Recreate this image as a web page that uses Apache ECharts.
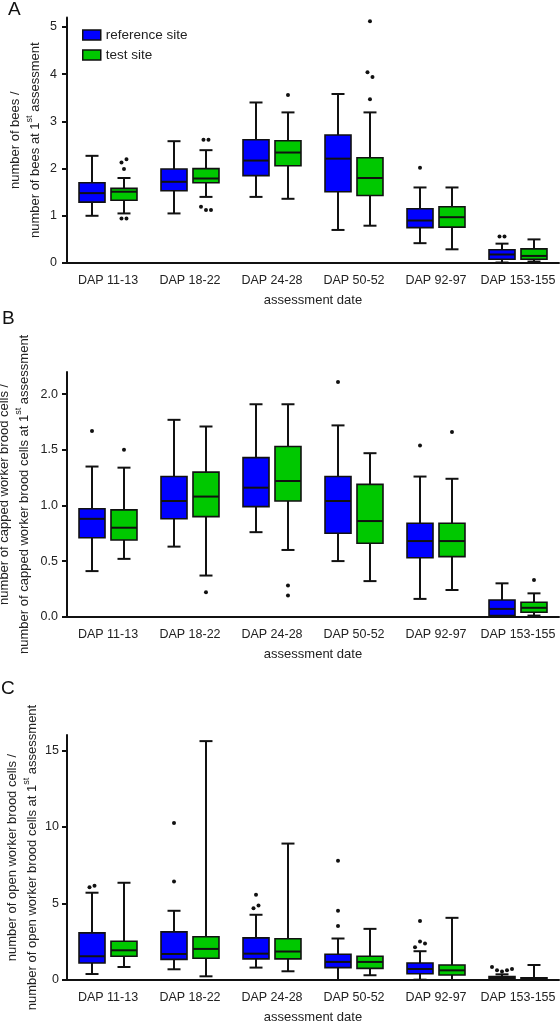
<!DOCTYPE html>
<html>
<head>
<meta charset="utf-8">
<script src="https://cdn.jsdelivr.net/npm/echarts@6/dist/echarts.min.js"></script>
<style>html,body{margin:0;padding:0;background:#fff}#chart{width:560px;height:1022px}</style>
</head>
<body>
<div id="chart"></div>
<script>
// ---------- data ----------
const categories = ['DAP 11-13', 'DAP 18-22', 'DAP 24-28', 'DAP 50-52', 'DAP 92-97', 'DAP 153-155'];
const seriesNames = ['reference site', 'test site'];

// [min(whisker), Q1, median, Q3, max(whisker)] per category
const beesRef = [[1.00,1.29,1.48,1.70,2.27],[1.05,1.53,1.72,1.99,2.58],[1.40,1.85,2.17,2.61,3.40],[0.70,1.51,2.21,2.71,3.58],[0.42,0.75,0.90,1.15,1.60],[0.01,0.08,0.18,0.28,0.41]];
const beesTest = [[1.05,1.33,1.51,1.58,1.80],[1.40,1.70,1.79,2.00,2.39],[1.36,2.06,2.34,2.59,3.19],[0.79,1.43,1.80,2.23,3.19],[0.29,0.76,0.97,1.19,1.60],[0.03,0.08,0.15,0.30,0.50]];
const beesRefOut = [[4,2.02],[5,0.56],[5,0.56]];
const beesTestOut = [[0,2.13],[0,2.20],[0,1.99],[0,0.94],[0,0.94],[1,2.61],[1,2.61],[1,1.19],[1,1.12],[1,1.12],[2,3.56],[3,5.12],[3,4.04],[3,3.94],[3,3.47]];

const cappedRef = [[0.41,0.71,0.88,0.97,1.35],[0.63,0.88,1.04,1.26,1.77],[0.76,0.99,1.16,1.43,1.91],[0.50,0.75,1.04,1.26,1.72],[0.16,0.53,0.68,0.84,1.26],[0.00,0.01,0.07,0.15,0.30]];
const cappedTest = [[0.52,0.69,0.80,0.96,1.34],[0.37,0.90,1.08,1.30,1.71],[0.60,1.04,1.22,1.53,1.91],[0.32,0.66,0.86,1.19,1.47],[0.24,0.54,0.68,0.84,1.24],[0.01,0.04,0.08,0.13,0.21]];
const cappedRefOut = [[0,1.67],[3,2.11],[4,1.54]];
const cappedTestOut = [[0,1.50],[1,0.22],[2,0.28],[2,0.19],[4,1.66],[5,0.33]];

const openRef = [[0.39,1.11,1.55,3.08,5.70],[0.70,1.35,1.70,3.14,4.52],[0.81,1.38,1.72,2.75,4.26],[0.00,0.81,1.18,1.68,2.71],[0.02,0.41,0.72,1.11,1.88],[0.00,0.07,0.13,0.22,0.37]];
const openTest = [[0.85,1.55,1.94,2.53,6.35],[0.24,1.42,2.03,2.82,15.6],[0.57,1.38,1.86,2.69,8.91],[0.31,0.76,1.18,1.55,3.34],[0.00,0.33,0.63,0.98,4.06],[0.00,0.04,0.09,0.15,0.98]];
const openRefOut = [[0,6.05],[0,6.16],[1,10.26],[1,6.44],[2,5.57],[2,4.69],[2,4.87],[3,7.79],[3,4.52],[3,3.52],[4,3.86],[4,2.14],[4,2.51],[4,2.38],[5,0.85],[5,0.63],[5,0.55],[5,0.63],[5,0.72]];
const openTestOut = [];

const beesTicks = [0, 1, 2, 3, 4, 5];
const cappedTicks = [0, 0.5, 1.0, 1.5, 2.0];
const openTicks = [0, 5, 10, 15];

// ---------- styling / layout ----------
const FONT = '"Liberation Sans", Arial, sans-serif';
const BLUE = '#0000ff';
const GREEN = '#00c800';
const INK = '#111111';
const TXT = '#222222';
const SITE_OFFSET = [-0.195, 0.195];  // fraction of band width
const BOX_FRAC = 0.317;

const panels = [
  { top: 17.5, height: 245.5, max: 5.2, ticks: beesTicks, dec: 0, ref: beesRef, test: beesTest, refOut: beesRefOut, testOut: beesTestOut,
    name: 'number of bees /\nnumber of bees at 1{sup|st} assessment', nameGap: 22, labelMargin: 10 },
  { top: 372, height: 244.7, max: 2.2, ticks: cappedTicks, dec: 1, ref: cappedRef, test: cappedTest, refOut: cappedRefOut, testOut: cappedTestOut,
    name: 'number of capped worker brood cells /\nnumber of capped worker brood cells at 1{sup|st} assessment', nameGap: 33, labelMargin: 9 },
  { top: 735, height: 245, max: 16, ticks: openTicks, dec: 0, ref: openRef, test: openTest, refOut: openRefOut, testOut: openTestOut,
    name: 'number of open worker brood cells /\nnumber of open worker brood cells at 1{sup|st} assessment', nameGap: 25, labelMargin: 8 }
];

function withJitter(points, range) {
  const thr = range * 0.024;
  const out = points.map(p => [p[0], p[1], 0]);
  const byCat = {};
  points.forEach((p, i) => { (byCat[p[0]] = byCat[p[0]] || []).push(i); });
  Object.keys(byCat).forEach(k => {
    const idxs = byCat[k];
    const sorted = idxs.slice().sort((a, b) => points[a][1] - points[b][1]);
    const groups = [[sorted[0]]];
    for (let j = 1; j < sorted.length; j++) {
      if (points[sorted[j]][1] - points[sorted[j - 1]][1] < thr) groups[groups.length - 1].push(sorted[j]);
      else groups.push([sorted[j]]);
    }
    groups.forEach(g => { g.sort((a, b) => a - b); g.forEach((idx, j) => { out[idx][2] = j - (g.length - 1) / 2; }); });
  });
  return out;
}

function boxRenderer(siteIdx, color) {
  return function (params, api) {
    const cat = api.value(0);
    const bw = api.size([1, 0])[0];
    const cx = api.coord([cat, 0])[0] + SITE_OFFSET[siteIdx] * bw;
    const w = BOX_FRAC * bw;
    const y = i => api.coord([cat, api.value(i)])[1];
    const yMin = y(1), yQ1 = y(2), yMed = y(3), yQ3 = y(4), yMax = y(5);
    const ls = { stroke: INK, lineWidth: 2 };
    return {
      type: 'group',
      children: [
        { type: 'line', shape: { x1: cx, y1: yMax, x2: cx, y2: yQ3 }, style: ls },
        { type: 'line', shape: { x1: cx - w / 4, y1: yMax, x2: cx + w / 4, y2: yMax }, style: ls },
        { type: 'line', shape: { x1: cx, y1: yMin, x2: cx, y2: yQ1 }, style: ls },
        { type: 'line', shape: { x1: cx - w / 4, y1: yMin, x2: cx + w / 4, y2: yMin }, style: ls },
        { type: 'rect', shape: { x: cx - w / 2, y: yQ3, width: w, height: yQ1 - yQ3 }, style: { fill: color, stroke: INK, lineWidth: 1.6 } },
        { type: 'line', shape: { x1: cx - w / 2, y1: yMed, x2: cx + w / 2, y2: yMed }, style: ls }
      ]
    };
  };
}

function outRenderer(siteIdx) {
  return function (params, api) {
    const cat = api.value(0);
    const bw = api.size([1, 0])[0];
    const pt = api.coord([cat, api.value(1)]);
    return { type: 'circle', shape: { cx: pt[0] + SITE_OFFSET[siteIdx] * bw + api.value(2) * 5, cy: pt[1], r: 2 }, style: { fill: INK } };
  };
}

const grid = [], xAxis = [], yAxis = [], series = [];
panels.forEach((p, i) => {
  grid.push({ left: 67, top: p.top, width: 492, height: p.height, containLabel: false, outerBoundsMode: 'none' });
  xAxis.push({
    type: 'category', gridIndex: i, data: categories,
    name: 'assessment date', nameLocation: 'middle', nameGap: 31, nameMoveOverlap: false,
    nameTextStyle: { fontSize: 13, color: TXT, fontFamily: FONT },
    axisLine: { lineStyle: { color: INK, width: 2 } },
    axisTick: { alignWithLabel: true, length: 5, lineStyle: { color: INK, width: 2 } },
    axisLabel: { fontSize: 12.5, color: TXT, fontFamily: FONT, margin: 11, interval: 0 },
    splitLine: { show: false }
  });
  yAxis.push({
    type: 'value', gridIndex: i, min: 0, max: p.max,
    name: p.name, nameLocation: 'middle', nameGap: p.nameGap, nameMoveOverlap: false,
    nameTextStyle: { fontSize: 13, lineHeight: 20, color: TXT, fontFamily: FONT,
      rich: { sup: { fontSize: 9, lineHeight: 11, verticalAlign: 'top', color: TXT, fontFamily: FONT } } },
    axisLine: { show: true, lineStyle: { color: INK, width: 2 } },
    axisTick: { show: true, length: 5, lineStyle: { color: INK, width: 2 }, customValues: p.ticks },
    axisLabel: { fontSize: 12.5, color: TXT, fontFamily: FONT, margin: p.labelMargin, customValues: p.ticks,
      formatter: v => Number(v).toFixed(p.dec) },
    splitLine: { show: false }
  });
  [[p.ref, p.refOut, BLUE], [p.test, p.testOut, GREEN]].forEach((s, k) => {
    series.push({
      type: 'custom', name: seriesNames[k], xAxisIndex: i, yAxisIndex: i,
      itemStyle: { color: s[2], borderColor: INK, borderWidth: 1.5 },
      encode: { x: 0, y: [1, 2, 3, 4, 5] },
      data: s[0].map((v, c) => [c].concat(v)),
      renderItem: boxRenderer(k, s[2]), z: 2
    });
    series.push({
      type: 'custom', name: seriesNames[k] + ' outliers', xAxisIndex: i, yAxisIndex: i,
      encode: { x: 0, y: 1 },
      data: withJitter(s[1], p.max),
      renderItem: outRenderer(k), z: 3
    });
  });
});

const chart = echarts.init(document.getElementById('chart'), null, { renderer: 'canvas' });
chart.setOption({
  animation: false,
  backgroundColor: '#ffffff',
  textStyle: { fontFamily: FONT },
  grid, xAxis, yAxis, series,
  legend: {
    orient: 'vertical', left: 77, top: 23, itemWidth: 18, itemHeight: 10, itemGap: 6,
    textStyle: { fontSize: 13.5, color: TXT, fontFamily: FONT, lineHeight: 14 },
    data: [
      { name: 'reference site', icon: 'rect', itemStyle: { color: BLUE, borderColor: INK, borderWidth: 1.5 } },
      { name: 'test site', icon: 'rect', itemStyle: { color: GREEN, borderColor: INK, borderWidth: 1.5 } }
    ],
    selectedMode: false
  },
  graphic: [
    { type: 'text', left: 8, top: 0, style: { text: 'A', fontSize: 19, fill: INK, fontFamily: FONT } },
    { type: 'text', left: 2, top: 309, style: { text: 'B', fontSize: 19, fill: INK, fontFamily: FONT } },
    { type: 'text', left: 1, top: 679, style: { text: 'C', fontSize: 19, fill: INK, fontFamily: FONT } }
  ]
});
</script>
</body>
</html>
